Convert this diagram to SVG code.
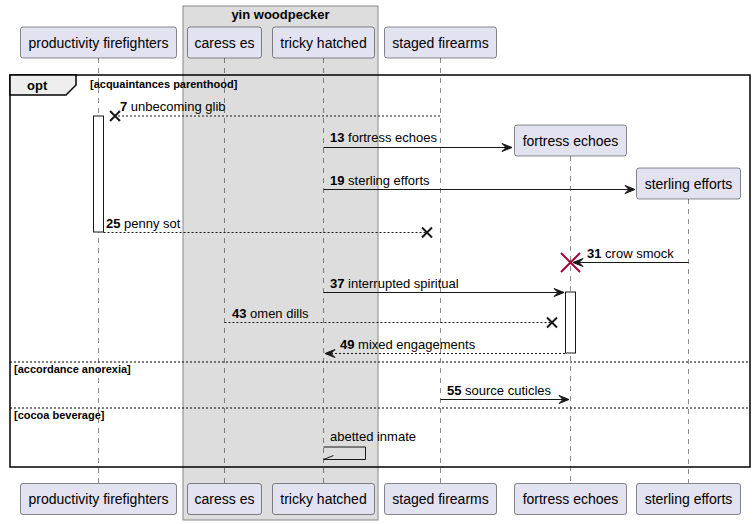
<svg xmlns="http://www.w3.org/2000/svg" width="756" height="524" viewBox="0 0 756 524">
<style>
.p{fill:#E2E2F0;stroke:#181818;stroke-width:0.5}
.pt{font-family:"Liberation Sans",Arial,sans-serif;font-size:14px;fill:#000;text-anchor:middle}
.ll{stroke:#181818;stroke-width:0.5;stroke-dasharray:5,5;fill:none}
.m{stroke:#181818;stroke-width:1;fill:none}
.md{stroke:#181818;stroke-width:1;fill:none;stroke-dasharray:2,2}
.mt{font-family:"Liberation Sans",Arial,sans-serif;font-size:13px;fill:#000}
.b{font-weight:bold}
.g{font-family:"Liberation Sans",Arial,sans-serif;font-size:11px;font-weight:bold;fill:#000}
.ah{fill:#181818;stroke:#181818;stroke-width:1}
.x{stroke:#181818;stroke-width:2}
.act{fill:#FFFFFF;stroke:#181818;stroke-width:1}
.sep{stroke:#000;stroke-width:1;stroke-dasharray:2,2}
</style>
<g id="box-yin-woodpecker">
<rect x="183" y="6" width="195" height="514" fill="#DDDDDD" stroke="#888888" stroke-width="1"/>
<text x="280.5" y="19" class="pt" style="font-size:13px;font-weight:bold">yin woodpecker</text>
</g>
<g id="lifelines">
<line class="ll" x1="98.5" y1="58" x2="98.5" y2="483"/>
<line class="ll" x1="224.5" y1="58" x2="224.5" y2="483"/>
<line class="ll" x1="323.5" y1="58" x2="323.5" y2="483"/>
<line class="ll" x1="440.5" y1="58" x2="440.5" y2="483"/>
<line class="ll" x1="570.5" y1="156" x2="570.5" y2="483"/>
<line class="ll" x1="688.5" y1="199" x2="688.5" y2="483"/>
</g>
<g id="frame-opt">
<rect x="10" y="75" width="740" height="392" fill="none" stroke="#000" stroke-width="1.5"/>
<polygon points="10,75 76,75 76,85 66,95 10,95" fill="#EEEEEE" stroke="#000" stroke-width="1.5"/>
<text x="27" y="90" class="g" style="font-size:13px">opt</text>
<text x="90" y="88" class="g">[acquaintances parenthood]</text>
<line class="sep" x1="10" y1="362" x2="750" y2="362"/>
<text x="14" y="373" class="g">[accordance anorexia]</text>
<line class="sep" x1="10" y1="408" x2="750" y2="408"/>
<text x="14" y="419" class="g">[cocoa beverage]</text>
</g>
<g id="activations">
<rect class="act" x="93.5" y="116" width="10" height="116"/>
<rect class="act" x="565.5" y="292" width="10" height="61"/>
</g>
<g id="connectors">
<line class="md" x1="440" y1="116" x2="116" y2="116"/>
<path class="x" d="M110,111 L120,121 M110,121 L120,111"/>
<text class="mt" x="120" y="111"><tspan class="b">7</tspan> unbecoming glib</text>

<line class="m" x1="323.5" y1="147.5" x2="512" y2="147.5"/>
<polygon class="ah" points="502,143.5 512,147.5 502,151.5 506,147.5"/>
<text class="mt" x="330" y="142"><tspan class="b">13</tspan> fortress echoes</text>

<line class="m" x1="323.5" y1="189.5" x2="635" y2="189.5"/>
<polygon class="ah" points="625,185.5 635,189.5 625,193.5 629,189.5"/>
<text class="mt" x="330" y="185"><tspan class="b">19</tspan> sterling efforts</text>

<line class="md" x1="103.5" y1="232.5" x2="427" y2="232.5"/>
<path class="x" d="M422,227.5 L432,237.5 M422,237.5 L432,227.5"/>
<text class="mt" x="106" y="228"><tspan class="b">25</tspan> penny sot</text>

<line class="m" x1="688.5" y1="262.5" x2="573" y2="262.5"/>
<polygon class="ah" points="583,258.5 573,262.5 583,266.5 579,262.5"/>
<path d="M561,253 L580,272 M561,272 L580,253" stroke="#A80036" stroke-width="2"/>
<text class="mt" x="587" y="258"><tspan class="b">31</tspan> crow smock</text>

<line class="m" x1="323.5" y1="292.5" x2="564" y2="292.5"/>
<polygon class="ah" points="554,288.5 564,292.5 554,296.5 558,292.5"/>
<text class="mt" x="330" y="288"><tspan class="b">37</tspan> interrupted spiritual</text>

<line class="md" x1="224.5" y1="322.5" x2="552" y2="322.5"/>
<path class="x" d="M547,317.5 L557,327.5 M547,327.5 L557,317.5"/>
<text class="mt" x="232" y="318"><tspan class="b">43</tspan> omen dills</text>

<line class="md" x1="565" y1="353.5" x2="325" y2="353.5"/>
<polygon class="ah" points="335,349.5 325,353.5 335,357.5 331,353.5"/>
<text class="mt" x="340" y="349"><tspan class="b">49</tspan> mixed engagements</text>

<line class="m" x1="440.5" y1="399.5" x2="569" y2="399.5"/>
<polygon class="ah" points="559,395.5 569,399.5 559,403.5 563,399.5"/>
<text class="mt" x="447" y="395"><tspan class="b">55</tspan> source cuticles</text>

<polyline class="m" points="323.5,447 365.5,447 365.5,459.5 323.5,459.5"/>
<line class="m" x1="323.5" y1="459.5" x2="333.5" y2="455.5"/>
<text class="mt" x="330" y="441">abetted inmate</text>
</g>
<g id="p-productivity-firefighters">
<rect class="p" x="20.5" y="27" width="156" height="31" rx="2.5"/>
<text class="pt" x="98.5" y="47.5">productivity firefighters</text>
<rect class="p" x="20.5" y="483.5" width="156" height="31" rx="2.5"/>
<text class="pt" x="98.5" y="504">productivity firefighters</text>
</g>
<g id="p-caress-es">
<rect class="p" x="187.5" y="27" width="74" height="31" rx="2.5"/>
<text class="pt" x="224.5" y="47.5">caress es</text>
<rect class="p" x="187.5" y="483.5" width="74" height="31" rx="2.5"/>
<text class="pt" x="224.5" y="504">caress es</text>
</g>
<g id="p-tricky-hatched">
<rect class="p" x="272.5" y="27" width="102" height="31" rx="2.5"/>
<text class="pt" x="323.5" y="47.5">tricky hatched</text>
<rect class="p" x="272.5" y="483.5" width="102" height="31" rx="2.5"/>
<text class="pt" x="323.5" y="504">tricky hatched</text>
</g>
<g id="p-staged-firearms">
<rect class="p" x="384.5" y="27" width="112" height="31" rx="2.5"/>
<text class="pt" x="440.5" y="47.5">staged firearms</text>
<rect class="p" x="384.5" y="483.5" width="112" height="31" rx="2.5"/>
<text class="pt" x="440.5" y="504">staged firearms</text>
</g>
<g id="p-fortress-echoes">
<rect class="p" x="514.5" y="125" width="112" height="31" rx="2.5"/>
<text class="pt" x="570.5" y="145.5">fortress echoes</text>
<rect class="p" x="514.5" y="483.5" width="112" height="31" rx="2.5"/>
<text class="pt" x="570.5" y="504">fortress echoes</text>
</g>
<g id="p-sterling-efforts">
<rect class="p" x="636.5" y="168" width="104" height="31" rx="2.5"/>
<text class="pt" x="688.5" y="188.5">sterling efforts</text>
<rect class="p" x="636.5" y="483.5" width="104" height="31" rx="2.5"/>
<text class="pt" x="688.5" y="504">sterling efforts</text>
</g>
</svg>
